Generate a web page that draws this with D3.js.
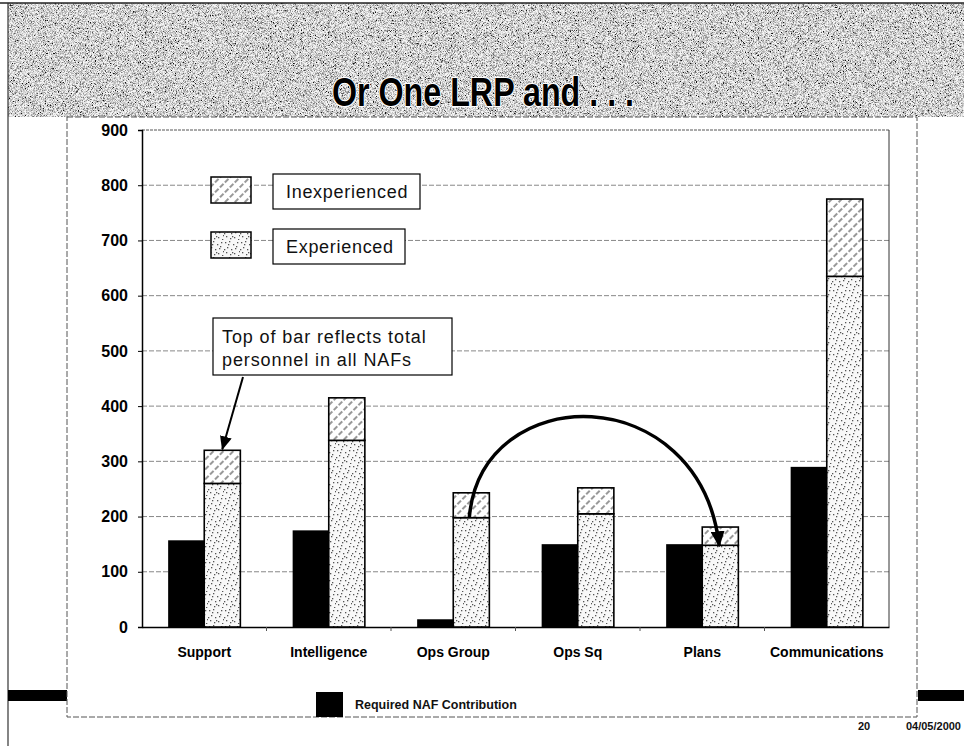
<!DOCTYPE html>
<html>
<head>
<meta charset="utf-8">
<script src="https://cdn.jsdelivr.net/npm/d3@7"></script>
<style>
  body { margin: 0; background: #fff; }
  svg { display: block; font-family: "Liberation Sans", Arial, Helvetica, sans-serif; }
</style>
</head>
<body>
<div id="chart"></div>
<script>
const categories = ["Support", "Intelligence", "Ops Group", "Ops Sq", "Plans", "Communications"];
const required = [157, 175, 14, 150, 150, 290];
const experienced = [260, 338, 198, 205, 148, 635];
const inexperienced = [60, 77, 45, 47, 33, 140];
const yTicks = [0, 100, 200, 300, 400, 500, 600, 700, 800, 900];

const width = 964;
const height = 746;
const plotLeft = 142;
const plotRight = 889;
const plotTop = 130;
const plotBottom = 627;

const svg = d3.select("#chart").append("svg")
  .attr("width", width)
  .attr("height", height);

const defs = svg.append("defs");

// speckled grey of the title band
const noise = defs.append("filter").attr("id", "noise")
  .attr("x", 0).attr("y", 0).attr("width", "100%").attr("height", "100%");
noise.append("feTurbulence")
  .attr("type", "fractalNoise").attr("baseFrequency", 1.4)
  .attr("numOctaves", 2).attr("seed", 3);
noise.append("feColorMatrix").attr("type", "matrix")
  .attr("values", "1 0 0 0 0  1 0 0 0 0  1 0 0 0 0  0 0 0 0 1");
const ct = noise.append("feComponentTransfer");
["feFuncR", "feFuncG", "feFuncB"].forEach(f =>
  ct.append(f).attr("type", "linear").attr("slope", 2.6).attr("intercept", -0.62));

// hatched pattern (inexperienced)
const hatch = defs.append("pattern").attr("id", "hatch")
  .attr("patternUnits", "userSpaceOnUse")
  .attr("width", 7).attr("height", 7)
  .attr("patternTransform", "rotate(45)");
hatch.append("rect").attr("width", 7).attr("height", 7).attr("fill", "#fff");
hatch.append("line")
  .attr("x1", 1).attr("y1", 0).attr("x2", 1).attr("y2", 7)
  .attr("stroke", "#333").attr("stroke-width", 1)
  .attr("stroke-dasharray", "5,2");

// stippled pattern (experienced)
const dots = [[1,2],[5,1],[9,4],[13,2],[3,7],[7,9],[11,8],[15,11],[2,12],[6,14],[10,13],[14,15],[4,4],[12,6],[8,12],[0,9]];
const stip = defs.append("pattern").attr("id", "stipple")
  .attr("patternUnits", "userSpaceOnUse")
  .attr("width", 16).attr("height", 16);
stip.append("rect").attr("width", 16).attr("height", 16).attr("fill", "#f8f8f8");
stip.selectAll("rect.d").data(dots).enter().append("rect")
  .attr("class", "d")
  .attr("x", d => d[0]).attr("y", d => d[1])
  .attr("width", 1.3).attr("height", 1.3)
  .attr("fill", "#555");

// arrow heads
defs.append("marker").attr("id", "headBig")
  .attr("markerUnits", "userSpaceOnUse")
  .attr("viewBox", "0 0 16 14")
  .attr("markerWidth", 16).attr("markerHeight", 14)
  .attr("refX", 15).attr("refY", 7).attr("orient", "auto")
  .append("path").attr("d", "M0,0 L16,7 L0,14 Z").attr("fill", "#000");
defs.append("marker").attr("id", "headSmall")
  .attr("markerUnits", "userSpaceOnUse")
  .attr("viewBox", "0 0 14 12")
  .attr("markerWidth", 14).attr("markerHeight", 12)
  .attr("refX", 13).attr("refY", 6).attr("orient", "auto")
  .append("path").attr("d", "M0,0 L14,6 L0,12 Z").attr("fill", "#000");

// slide frame and title band
svg.append("rect").attr("x", 8).attr("y", 3).attr("width", width - 8).attr("height", 114)
  .attr("fill", "#aaa");
svg.append("rect").attr("x", 8).attr("y", 3).attr("width", width - 8).attr("height", 114)
  .attr("filter", "url(#noise)").attr("opacity", 0.9);
svg.append("line").attr("x1", 0).attr("x2", width).attr("y1", 3).attr("y2", 3)
  .attr("stroke", "#222").attr("stroke-width", 1.5);
svg.append("line").attr("x1", 8).attr("x2", 8).attr("y1", 3).attr("y2", height)
  .attr("stroke", "#333").attr("stroke-width", 1.2);

svg.append("text")
  .attr("x", 332).attr("y", 106)
  .attr("textLength", 302).attr("lengthAdjust", "spacingAndGlyphs")
  .attr("font-size", 40).attr("font-weight", "bold")
  .attr("fill", "#000").attr("stroke", "#fff").attr("stroke-width", 2)
  .attr("paint-order", "stroke")
  .text("Or One LRP and . . .");

// thick black rules either side of the chart box
svg.append("rect").attr("x", 8).attr("y", 690).attr("width", 59).attr("height", 11).attr("fill", "#000");
svg.append("rect").attr("x", 918).attr("y", 690).attr("width", 46).attr("height", 11).attr("fill", "#000");

// chart box
svg.append("rect").attr("x", 67).attr("y", 117).attr("width", 850).attr("height", 600)
  .attr("fill", "#fff").attr("stroke", "#555").attr("stroke-width", 1)
  .attr("stroke-dasharray", "6,2");

const x = d3.scaleBand().domain(categories).range([plotLeft, plotRight]);
const y = d3.scaleLinear().domain([0, 900]).range([plotBottom, plotTop]);
const barW = x.bandwidth() * 0.29;

// gridlines
svg.append("g")
  .selectAll("line")
  .data(yTicks.filter(t => t > 0 && t < 900))
  .enter().append("line")
  .attr("x1", plotLeft).attr("x2", plotRight)
  .attr("y1", d => y(d)).attr("y2", d => y(d))
  .attr("stroke", "#888").attr("stroke-width", 1)
  .attr("stroke-dasharray", "5,2");

// plot frame
svg.append("line").attr("x1", plotLeft).attr("x2", plotRight)
  .attr("y1", y(900)).attr("y2", y(900))
  .attr("stroke", "#555").attr("stroke-dasharray", "3,1");
svg.append("line").attr("x1", plotRight).attr("x2", plotRight)
  .attr("y1", y(900)).attr("y2", y(0))
  .attr("stroke", "#333");

// y axis
const yAxis = svg.append("g")
  .attr("transform", `translate(${plotLeft},0)`)
  .call(d3.axisLeft(y).tickValues(yTicks).tickSize(4).tickPadding(10));
yAxis.select(".domain").attr("stroke", "#000").attr("stroke-width", 1.5);
yAxis.selectAll("text")
  .attr("font-size", 16).attr("font-weight", "bold")
  .attr("font-family", "'Liberation Sans', Arial, sans-serif").attr("fill", "#000");

// x axis
const xAxis = svg.append("g")
  .attr("transform", `translate(0,${plotBottom})`)
  .call(d3.axisBottom(x).tickSize(0).tickPadding(20));
xAxis.select(".domain").attr("stroke", "#000").attr("stroke-width", 1.5);
xAxis.selectAll("text")
  .attr("font-size", 14).attr("font-weight", "bold")
  .attr("font-family", "'Liberation Sans', Arial, sans-serif").attr("fill", "#000");
svg.append("g").selectAll("line")
  .data(categories.slice(1))
  .enter().append("line")
  .attr("x1", d => x(d)).attr("x2", d => x(d))
  .attr("y1", plotBottom).attr("y2", plotBottom + 4)
  .attr("stroke", "#555");

const rows = categories.map((c, i) => ({
  cat: c, req: required[i], exp: experienced[i], inexp: inexperienced[i]
}));
const mid = d => x(d.cat) + x.bandwidth() / 2;

// required NAF contribution
svg.append("g").selectAll("rect")
  .data(rows).enter().append("rect")
  .attr("x", d => mid(d) - barW)
  .attr("y", d => y(d.req))
  .attr("width", barW)
  .attr("height", d => y(0) - y(d.req))
  .attr("fill", "#000");

// experienced
svg.append("g").selectAll("rect")
  .data(rows).enter().append("rect")
  .attr("x", d => mid(d))
  .attr("y", d => y(d.exp))
  .attr("width", barW)
  .attr("height", d => y(0) - y(d.exp))
  .attr("fill", "url(#stipple)")
  .attr("stroke", "#000").attr("stroke-width", 1.6);

// inexperienced
svg.append("g").selectAll("rect")
  .data(rows).enter().append("rect")
  .attr("x", d => mid(d))
  .attr("y", d => y(d.exp + d.inexp))
  .attr("width", barW)
  .attr("height", d => y(d.exp) - y(d.exp + d.inexp))
  .attr("fill", "url(#hatch)")
  .attr("stroke", "#000").attr("stroke-width", 1.6);

// in-plot legend
const legendItems = [
  { label: "Inexperienced", fill: "url(#hatch)", sy: 177, by: 174, bw: 147 },
  { label: "Experienced", fill: "url(#stipple)", sy: 232, by: 229, bw: 132 }
];
const lg = svg.append("g");
lg.selectAll("rect.sw").data(legendItems).enter().append("rect")
  .attr("class", "sw")
  .attr("x", 211).attr("y", d => d.sy).attr("width", 40).attr("height", 26)
  .attr("fill", d => d.fill).attr("stroke", "#000").attr("stroke-width", 1.5);
lg.selectAll("rect.bx").data(legendItems).enter().append("rect")
  .attr("class", "bx")
  .attr("x", 273).attr("y", d => d.by).attr("width", d => d.bw).attr("height", 35)
  .attr("fill", "#fff").attr("stroke", "#000").attr("stroke-width", 1.2);
lg.selectAll("text").data(legendItems).enter().append("text")
  .attr("x", 286).attr("y", d => d.by + 24)
  .attr("font-size", 18).attr("letter-spacing", 0.7).attr("fill", "#111")
  .text(d => d.label);

// annotation box
const note = svg.append("g");
note.append("rect").attr("x", 213).attr("y", 318).attr("width", 239).attr("height", 57)
  .attr("fill", "#fff").attr("stroke", "#000").attr("stroke-width", 1.2);
note.append("text").attr("x", 222).attr("y", 343)
  .attr("font-size", 18).attr("letter-spacing", 0.9).attr("fill", "#111")
  .text("Top of bar reflects total");
note.append("text").attr("x", 222).attr("y", 366)
  .attr("font-size", 18).attr("letter-spacing", 0.9).attr("fill", "#111")
  .text("personnel in all NAFs");

const sup = rows[0];
svg.append("line")
  .attr("x1", 243).attr("y1", 377)
  .attr("x2", mid(sup) + barW / 2).attr("y2", y(sup.exp + sup.inexp) - 1)
  .attr("stroke", "#000").attr("stroke-width", 2)
  .attr("marker-end", "url(#headSmall)");

// curved arrow from Ops Group to Plans
const og = rows[2];
const pl = rows[4];
const arc = d3.path();
arc.moveTo(mid(og) + barW / 2 - 2, y(og.exp));
arc.bezierCurveTo(mid(og) + barW / 2 + 10, y(450), mid(pl) - 2, y(450), mid(pl) + barW / 2 - 1, y(pl.exp) + 1);
svg.append("path")
  .attr("d", arc.toString())
  .attr("fill", "none").attr("stroke", "#000").attr("stroke-width", 3.5)
  .attr("marker-end", "url(#headBig)");

// bottom legend
svg.append("rect").attr("x", 316).attr("y", 692).attr("width", 27).attr("height", 25).attr("fill", "#000");
svg.append("text").attr("x", 355).attr("y", 709)
  .attr("font-size", 12.5).attr("font-weight", "bold").attr("fill", "#111")
  .text("Required NAF Contribution");

// footer
svg.append("text").attr("x", 858).attr("y", 730)
  .attr("font-size", 11).attr("font-weight", "bold").attr("fill", "#111")
  .text("20");
svg.append("text").attr("x", 961).attr("y", 730).attr("text-anchor", "end")
  .attr("font-size", 11).attr("font-weight", "bold").attr("fill", "#111")
  .text("04/05/2000");
</script>
</body>
</html>
